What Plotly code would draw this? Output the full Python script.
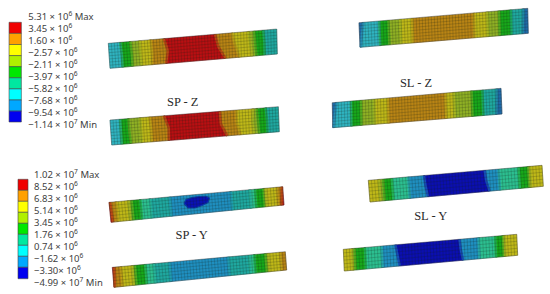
import numpy as np
import plotly.graph_objects as go

# band colours as they look on the meshed beams
RD, OR, YL, YG, GR = '#b90f12', '#b98414', '#bfb818', '#8fb024', '#17a81a'
MT, TL, CY, SK, BL, DB = '#2cbf90', '#1fa8a0', '#2fb3c0', '#1f8fc0', '#0b0fb0', '#1f6aa8'

# legends
legend_colors = ['#f00000', '#ffa000', '#ffff00', '#b0f000', '#00e800',
                 '#00e8a0', '#00ffff', '#00a8ff', '#0000f0']
legend_z_edges = [22.3, 33.4, 44.5, 55.6, 66.7, 77.8, 88.9, 100.0, 111.1, 122.0]
legend_y_edges = [179.3, 190.3, 201.3, 212.3, 223.3, 234.3, 245.3, 256.3, 267.3, 278.7]
legend_z_labels = ['5.31 × 10<sup>6</sup> Max', '3.45 × 10<sup>6</sup>', '1.60 × 10<sup>6</sup>',
                   '−2.57 × 10<sup>6</sup>', '−2.11 × 10<sup>6</sup>', '−3.97 × 10<sup>6</sup>',
                   '−5.82 × 10<sup>6</sup>', '−7.68 × 10<sup>6</sup>', '−9.54 × 10<sup>6</sup>',
                   '−1.14 × 10<sup>7</sup> Min']
legend_z_label_y = [17.7, 29.7, 41.7, 53.7, 65.7, 77.7, 89.7, 101.7, 113.7, 125.7]
legend_y_labels = ['1.02 × 10<sup>7</sup> Max', '8.52 × 10<sup>6</sup>', '6.83 × 10<sup>6</sup>',
                   '5.14 × 10<sup>6</sup>', '3.45 × 10<sup>6</sup>', '1.76 × 10<sup>6</sup>',
                   '0.74 × 10<sup>6</sup>', '−1.62 × 10<sup>6</sup>', '−3.30× 10<sup>6</sup>',
                   '−4.99 × 10<sup>7</sup> Min']
legend_y_label_y = [175.3, 187.3, 199.3, 211.3, 223.3, 235.3, 247.3, 259.3, 271.3, 283.3]

# captions
caption_text = ['SP - Z', 'SL - Z', 'SP - Y', 'SL - Y']
caption_x = [182.7, 416.0, 191.7, 430.7]
caption_y = [102.7, 84.3, 236.3, 217.3]

# beam corners: top left, top right, bottom right, bottom left
beam_a_x = [108.3, 276.7, 277.3, 110.0]
beam_a_y = [43.3, 29.0, 54.0, 68.3]
beam_b_x = [110.0, 278.3, 279.3, 111.7]
beam_b_y = [120.0, 106.7, 131.7, 145.0]
beam_c_x = [109.0, 282.7, 284.0, 111.0]
beam_c_y = [202.3, 186.7, 205.0, 222.3]
beam_d_x = [112.3, 285.3, 286.7, 114.0]
beam_d_y = [267.3, 251.7, 270.0, 287.3]
beam_e_x = [359.0, 527.7, 528.3, 360.0]
beam_e_y = [22.7, 8.3, 33.3, 47.3]
beam_f_x = [332.3, 501.0, 502.0, 332.7]
beam_f_y = [102.7, 88.3, 114.0, 127.7]
beam_g_x = [368.3, 542.0, 543.3, 370.0]
beam_g_y = [180.3, 165.3, 186.3, 202.0]
beam_h_x = [343.3, 516.7, 517.7, 344.3]
beam_h_y = [249.3, 234.3, 255.3, 271.0]

# colour bands along each beam, boundaries as fractions of length (top, middle, bottom edge)
bands_ab = [CY, GR, YG, YL, OR, RD, OR, YL, YG, GR, TL]
beam_a_stops = [[.07, .13, .185, .25, .33, .634, .733, .832, .865, .92],
                [.075, .135, .185, .255, .35, .65, .75, .84, .87, .925],
                [.075, .135, .19, .25, .335, .69, .775, .85, .875, .925]]
beam_b_stops = [[.06, .11, .18, .235, .32, .653, .752, .85, .871, .925],
                [.06, .11, .18, .24, .345, .655, .75, .84, .875, .93],
                [.06, .115, .18, .24, .34, .69, .77, .85, .88, .93]]
bands_c = [RD, OR, YL, YG, GR, MT, TL, SK, TL, MT, GR, YG, YL, OR, RD]
beam_c_stops = [[.006, .04, .11, .13, .18, .235, .35, .70, .81, .84, .89, .90, .965, .995],
                [.01, .04, .11, .13, .18, .235, .35, .70, .81, .84, .89, .90, .965, .99],
                [.012, .04, .11, .13, .18, .235, .35, .70, .81, .84, .89, .90, .965, .985]]
bands_d = [RD, OR, YL, YG, GR, MT, TL, SK, TL, MT, GR, YG, YL, OR]
beam_d_stops = [[.012, .05, .115, .13, .19, .24, .33, .67, .79, .82, .885, .90, .97],
                [.008, .05, .115, .13, .19, .24, .33, .67, .79, .82, .885, .90, .97],
                [.004, .05, .115, .13, .19, .24, .33, .67, .79, .82, .885, .90, .97]]
bands_e = [DB, CY, GR, YG, YL, OR, YL, YG, GR, TL, DB]
beam_e_stops = [[.025, .12, .175, .245, .315, .68, .76, .83, .90, .975],
                [.015, .12, .175, .245, .315, .68, .76, .83, .90, .97],
                [.005, .12, .175, .245, .315, .68, .76, .83, .90, .965]]
beam_f_stops = [[.025, .11, .17, .25, .33, .67, .72, .825, .89, .975],
                [.015, .11, .17, .25, .33, .67, .72, .825, .89, .97],
                [.005, .11, .17, .25, .33, .67, .72, .825, .89, .965]]
bands_gh = [YL, YG, GR, MT, SK, BL, SK, MT, GR, YG, YL]
beam_g_stops = [[.06, .085, .135, .23, .32, .67, .75, .865, .92, .93],
                [.06, .085, .135, .23, .325, .675, .75, .865, .92, .93],
                [.06, .085, .135, .23, .335, .69, .75, .865, .92, .93]]
beam_h_stops = [[.05, .065, .125, .22, .30, .67, .78, .875, .92, .93],
                [.05, .065, .125, .22, .31, .675, .78, .875, .92, .93],
                [.05, .065, .125, .22, .32, .685, .78, .875, .92, .93]]

# dark blue patch in the middle of SP - Y (outline)
patch_x = [184.0, 186.0, 192.0, 199.0, 206.0, 209.5, 208.0, 202.0, 195.0, 188.0]
patch_y = [203.5, 199.5, 197.5, 196.5, 196.3, 198.0, 202.5, 205.5, 208.0, 208.0]

beams = [
    (beam_a_x, beam_a_y, bands_ab, beam_a_stops, 8),
    (beam_b_x, beam_b_y, bands_ab, beam_b_stops, 8),
    (beam_c_x, beam_c_y, bands_c, beam_c_stops, 6),
    (beam_d_x, beam_d_y, bands_d, beam_d_stops, 6),
    (beam_e_x, beam_e_y, bands_e, beam_e_stops, 8),
    (beam_f_x, beam_f_y, bands_e, beam_f_stops, 8),
    (beam_g_x, beam_g_y, bands_gh, beam_g_stops, 6),
    (beam_h_x, beam_h_y, bands_gh, beam_h_stops, 6),
]
N_COLS = 56


def beam_point(xs, ys, frac, row):
    top = np.array([xs[0] + (xs[1] - xs[0]) * frac, ys[0] + (ys[1] - ys[0]) * frac])
    bot = np.array([xs[3] + (xs[2] - xs[3]) * frac, ys[3] + (ys[2] - ys[3]) * frac])
    return top + (bot - top) * row


def blend(c1, c2):
    a = [int(c1[i:i + 2], 16) for i in (1, 3, 5)]
    b = [int(c2[i:i + 2], 16) for i in (1, 3, 5)]
    return 'rgb(%d,%d,%d)' % tuple((p + q) // 2 for p, q in zip(a, b))


fig = go.Figure()

for xs, ys, bands, stops, n_rows in beams:
    rows = np.linspace(0, 1, len(stops))
    for i, color in enumerate(bands):
        left = [0] * len(stops) if i == 0 else [s[i - 1] for s in stops]
        right = [1] * len(stops) if i == len(bands) - 1 else [s[i] for s in stops]
        pts = [beam_point(xs, ys, f, r) for f, r in zip(left, rows)]
        pts += [beam_point(xs, ys, f, r) for f, r in zip(right[::-1], rows[::-1])]
        fig.add_trace(go.Scatter(x=[p[0] for p in pts], y=[p[1] for p in pts], mode='lines',
                                 fill='toself', fillcolor=color, hoverinfo='skip',
                                 line=dict(color=color, width=0.4)))
    # soften the band edges, the picture is a blurry scan
    for i in range(len(bands) - 1):
        pts = [beam_point(xs, ys, s[i], r) for s, r in zip(stops, rows)]
        fig.add_trace(go.Scatter(x=[p[0] for p in pts], y=[p[1] for p in pts], mode='lines', hoverinfo='skip',
                                 line=dict(color=blend(bands[i], bands[i + 1]), width=2.5)))

fig.add_trace(go.Scatter(x=patch_x + patch_x[:1], y=patch_y + patch_y[:1], mode='lines', fill='toself',
                         fillcolor='#0a12b4', line=dict(color='#0a40b0', width=1.2), hoverinfo='skip'))

# mesh lines and outline on top of the bands
for xs, ys, bands, stops, n_rows in beams:
    mx, my = [], []
    for c in range(1, N_COLS):
        a, b = beam_point(xs, ys, c / N_COLS, 0), beam_point(xs, ys, c / N_COLS, 1)
        mx += [a[0], b[0], None]
        my += [a[1], b[1], None]
    for r in range(1, n_rows):
        a, b = beam_point(xs, ys, 0, r / n_rows), beam_point(xs, ys, 1, r / n_rows)
        mx += [a[0], b[0], None]
        my += [a[1], b[1], None]
    fig.add_trace(go.Scatter(x=mx, y=my, mode='lines', hoverinfo='skip',
                             line=dict(color='rgba(20,30,20,0.27)', width=0.7)))
    fig.add_trace(go.Scatter(x=xs + xs[:1], y=ys + ys[:1], mode='lines', hoverinfo='skip',
                             line=dict(color='rgba(40,40,40,0.5)', width=0.8)))

# colour scales
for edges, center, width in [(legend_z_edges, 15.2, 12.3), (legend_y_edges, 23.0, 10.0)]:
    fig.add_trace(go.Bar(x=[center] * len(legend_colors), y=np.diff(edges), base=edges[:-1], width=width,
                         marker=dict(color=legend_colors, line=dict(color='#444444', width=0.6)),
                         hoverinfo='skip'))

for labels, label_y, label_x in [(legend_z_labels, legend_z_label_y, 28.3), (legend_y_labels, legend_y_label_y, 34.0)]:
    fig.add_trace(go.Scatter(x=[label_x] * len(labels), y=label_y, mode='text', text=labels,
                             textposition='middle right', hoverinfo='skip',
                             textfont=dict(family='Noto Sans', size=9.5, color='#404040')))

fig.add_trace(go.Scatter(x=caption_x, y=caption_y, mode='text', text=caption_text, textposition='middle center',
                         hoverinfo='skip', textfont=dict(family='Liberation Serif', size=12.5, color='#2a2a2a')))

fig.update_layout(width=550, height=294, margin=dict(l=0, r=0, t=0, b=0), showlegend=False,
                  paper_bgcolor='white', plot_bgcolor='white', barmode='overlay')
fig.update_xaxes(range=[0, 550], visible=False)
fig.update_yaxes(range=[294, 0], visible=False)

# page margin off so the picture sits at the window corner
fig.write_html("out.html", config=dict(displayModeBar=False), post_script="document.body.style.margin='0';")
